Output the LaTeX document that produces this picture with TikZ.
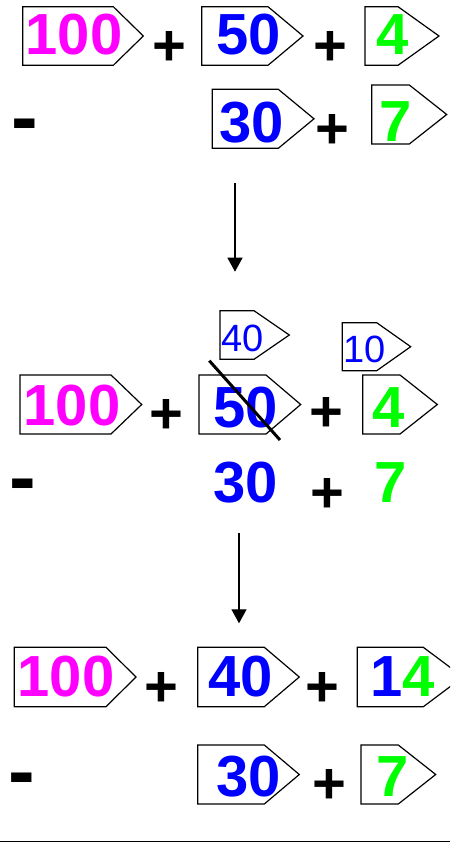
\documentclass[tikz,border=0pt]{standalone}
\usepackage{fontspec}
\setmainfont{Liberation Sans}
\usetikzlibrary{arrows.meta}
\definecolor{cmag}{RGB}{255,0,255}
\definecolor{cblue}{RGB}{0,0,255}
\definecolor{cgreen}{RGB}{0,255,0}
\newcommand\tagshape[5]{\draw[tagline] (#1,#2) -- (#4,#2) -- (#5,{(#2+#3)/2}) -- (#4,#3) -- (#1,#3) -- cycle;}
\tikzset{
  tagline/.style={draw=black, line width=1.2pt, line join=miter, fill=white},
  big/.style={inner sep=0pt, font=\fontsize{58}{60}\selectfont\bfseries},
  small/.style={inner sep=0pt, font=\fontsize{38}{40}\selectfont},
  op/.style={inner sep=0pt, yshift=-3pt, font=\fontsize{58}{60}\selectfont\bfseries},
  minusop/.style={inner sep=0pt, yshift=-10pt, font=\fontsize{80}{82}\selectfont\bfseries},
  arr/.style={line width=1.3pt, -{Triangle[length=14pt,width=15pt]}},
  strike/.style={line width=3pt},
}
\begin{document}
\begin{tikzpicture}[x=1pt,y=-1pt]
\clip (0,0) rectangle (450,843);
\fill[white] (0,0) rectangle (450,843);
% ---------- top section ----------
\tagshape{22.7}{6.7}{65.3}{113.3}{143.3}
\tagshape{201.7}{6.7}{65.3}{268}{303}
\tagshape{365}{6.7}{65.3}{398}{439}
\tagshape{212.3}{89.3}{148.3}{278.3}{314}
\tagshape{371.7}{85}{144}{409.3}{446.7}
\node[big, text=cmag] (t100) at (74,35) {100};
\node[op] (tp1) at (169.5,45.3) {+};
\node[big, text=cblue] (t50) at (249,35) {50};
\node[op] (tp2) at (330,45.3) {+};
\node[big, text=cgreen] (t4) at (393,35) {4};
\node[minusop] (tm) at (25,122) {-};
\node[big, text=cblue] (t30) at (251.7,122.5) {30};
\node[op] (tp3) at (332,128.8) {+};
\node[big, text=cgreen] (t7) at (396,121.7) {7};
% arrow 1
\coordinate (a1s) at (235,183.3);
\coordinate (a1e) at (235,271.7);
\draw[arr] (a1s) -- (a1e);
% ---------- middle section ----------
\tagshape{220}{310.7}{359.3}{254}{289.3}
\tagshape{342.3}{322.7}{370.7}{376.7}{410.7}
\tagshape{20}{375}{434}{111}{141.7}
\tagshape{199}{375}{434}{266}{300.7}
\tagshape{362.7}{375}{434}{400}{437.3}
\node[small, text=cblue] (m40) at (242.5,338.3) {40};
\node[small, text=cblue] (m10) at (364.5,349) {10};
\node[big, text=cmag] (m100) at (72,405.5) {100};
\node[op] (mp1) at (166,413) {+};
\node[big, text=cblue] (m50) at (245.5,407.5) {50};
\node[op] (mp2) at (326,411.7) {+};
\node[big, text=cgreen] (m4) at (389,407.5) {4};
\draw[strike] (209.3,360.7) -- (280,440);
\node[minusop] (mm) at (23,482) {-};
\node[big, text=cblue] (m30) at (246,482.5) {30};
\node[op] (mp3) at (327,492.5) {+};
\node[big, text=cgreen] (m7) at (390.5,482.5) {7};
% arrow 2
\coordinate (a2s) at (239,533.3);
\coordinate (a2e) at (239,623.3);
\draw[arr] (a2s) -- (a2e);
% ---------- bottom section ----------
\tagshape{14.3}{647.3}{706.7}{106}{136}
\tagshape{197.7}{647.3}{706.7}{264.3}{299.3}
\tagshape{357.3}{647.3}{706.7}{423.3}{463}
\tagshape{197.7}{745}{804}{264.3}{299.3}
\tagshape{361}{745}{804}{398.3}{435.7}
\node[big, text=cmag] (b100) at (66,676.7) {100};
\node[op] (bp1) at (161,686.7) {+};
\node[big, text=cblue] (b40) at (241,676.7) {40};
\node[op] (bp2) at (322,686.7) {+};
\node[big] (b14) at (402.5,676.3) {\textcolor{cblue}{1}\textcolor{cgreen}{4}};
\node[minusop] (bm) at (22,776) {-};
\node[big, text=cblue] (b30) at (249,777) {30};
\node[op] (bp3) at (329.5,783.3) {+};
\node[big, text=cgreen] (b7) at (393,777) {7};
% bottom rule
\coordinate (rl) at (0,841.5);
\coordinate (rr) at (450,841.5);
\draw[line width=1.5pt] (rl) -- (rr);
\end{tikzpicture}
\end{document}
